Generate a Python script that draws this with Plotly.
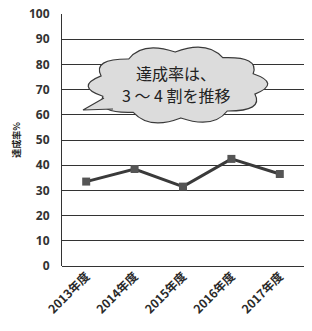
import numpy as np
import plotly.graph_objects as go

categories = ["2013年度", "2014年度", "2015年度", "2016年度", "2017年度"]
values = [33.5, 38.5, 31.5, 42.5, 36.5]
y_ticks = [0, 10, 20, 30, 40, 50, 60, 70, 80, 90, 100]
callout_lines = ["達成率は、", "3 ～ 4 割を推移"]
y_title = "達成率%"

W, H = 312, 331
ML, MR, MT, MB = 62, 8, 14, 65
PW, PH = W - ML - MR, H - MT - MB


def px2paper(x, y):
    return (x - ML) / PW, (H - MB - y) / PH


# cloud outline (decoration) built in pixel space, converted to paper coords
cx, cy, rx, ry = 178, 85, 80, 33
n = 10
start = np.deg2rad(200)
angs = start + np.linspace(0, 2 * np.pi, n + 1)
pts = [(cx + rx * np.cos(a), cy - ry * np.sin(a)) for a in angs]
segs = []
x0, y0 = px2paper(*pts[0])
segs.append(f"M{x0:.4f},{y0:.4f}")
for i in range(n):
    am = (angs[i] + angs[i + 1]) / 2
    k = 1.42
    qx, qy = cx + rx * (1 + (k - 1) * 0.7) * np.cos(am), cy - ry * k * np.sin(am)
    q = px2paper(qx, qy)
    e = px2paper(*pts[i + 1])
    segs.append(f"Q{q[0]:.4f},{q[1]:.4f} {e[0]:.4f},{e[1]:.4f}")
segs.append("Z")
cloud_path = " ".join(segs)

t1 = px2paper(83, 110)
t2 = px2paper(104, 98)
t3 = px2paper(113, 109)
tail_path = f"M{t2[0]:.4f},{t2[1]:.4f} L{t1[0]:.4f},{t1[1]:.4f} L{t3[0]:.4f},{t3[1]:.4f}"
tail_fill = tail_path + " Z"

fig = go.Figure()
fig.add_trace(go.Scatter(
    x=categories, y=values, mode="lines+markers",
    line=dict(color="#3a3a3a", width=3),
    marker=dict(symbol="square", size=8, color="#555555"),
    showlegend=False,
))

fill = "#dcdcdc"
edge = "#3a3a3a"
fig.add_shape(type="path", path=cloud_path, xref="paper", yref="paper",
              fillcolor=fill, line=dict(color=edge, width=1.2), layer="above")
fig.add_shape(type="path", path=tail_fill, xref="paper", yref="paper",
              fillcolor=fill, line=dict(width=0), layer="above")
fig.add_shape(type="path", path=tail_path, xref="paper", yref="paper",
              line=dict(color=edge, width=1.2), layer="above")

for line_text, (lx, ly) in zip(callout_lines, [(176, 73), (176, 95)]):
    tx, ty = px2paper(lx, ly)
    fig.add_annotation(x=tx, y=ty, xref="paper", yref="paper", text=line_text,
                       showarrow=False, align="center", xanchor="center", yanchor="middle",
                       font=dict(family="Noto Sans CJK JP", size=16, color="#222222"))

fig.update_layout(
    width=W, height=H,
    margin=dict(l=ML, r=MR, t=MT, b=MB, autoexpand=False),
    paper_bgcolor="white", plot_bgcolor="white",
    font=dict(family="Noto Sans CJK JP", color="#333333"),
    xaxis=dict(
        type="category", showgrid=False, showline=False, zeroline=False,
        automargin=False,
        tickangle=-45,
        tickfont=dict(size=12, color="#2a2a2a", family="Noto Sans CJK JP", weight="bold"),
        ticks="", range=[-0.5, 4.5],
    ),
    yaxis=dict(
        range=[0, 100], tickvals=y_ticks, showgrid=True, gridcolor="#333333",
        automargin=False,
        gridwidth=1, showline=True, linecolor="#333333", linewidth=1,
        zeroline=True, zerolinecolor="#333333", zerolinewidth=1,
        ticks="", ticklabelstandoff=9,
        tickfont=dict(size=12, color="#333333", family="Open Sans", weight="bold"),
        title=dict(text=y_title, font=dict(size=9, color="#222222", weight="bold"), standoff=6),
    ),
)

fig.write_html("out.html", config={"displayModeBar": False},
               post_script="document.body.style.margin='0px';")
